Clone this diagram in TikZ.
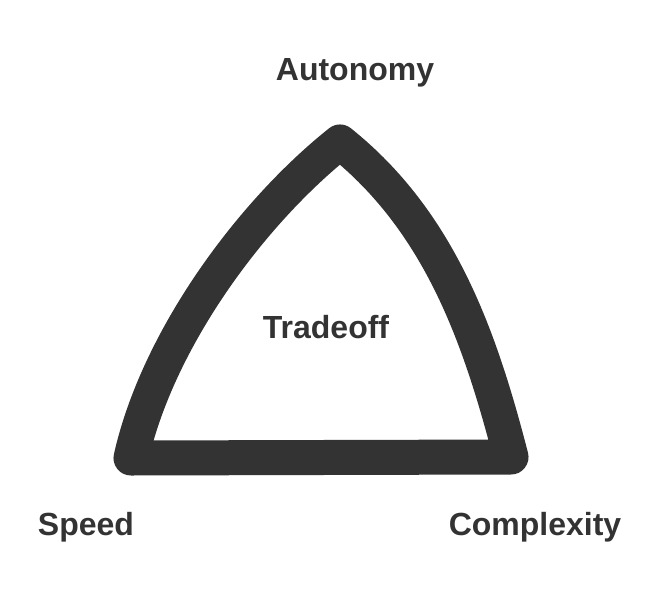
\documentclass[tikz,border=0pt]{standalone}
\usepackage{fontspec}
\setmainfont{Liberation Sans}
\usepackage{xcolor}
\usepackage{tikz}
\definecolor{inkgrey}{HTML}{333333}

\begin{document}
\begin{tikzpicture}[x=1pt, y=-1pt,
  lb/.style={font=\fontsize{32}{36}\selectfont\bfseries, text=inkgrey, inner sep=0pt, anchor=base},
  br/.style={draw=inkgrey, line width=35pt, line join=round, line cap=round}]
\useasboundingbox (0,0) rectangle (664,600);
\coordinate (top) at (340,142);
\coordinate (lft) at (131,458);
\coordinate (rgt) at (511,457);
\draw[br] (lft) .. controls (158,338) and (252,212) .. (top)
  .. controls (440,222) and (480,337) .. (rgt) -- cycle;
\node[lb] (aut) at (355,80) {Autonomy};
\node[lb] (spd) at (86,535) {Speed};
\node[lb] (cpx) at (535,535) {Complexity};
\node[lb] (tro) at (326,338) {Tradeoff};
\end{tikzpicture}
\end{document}
